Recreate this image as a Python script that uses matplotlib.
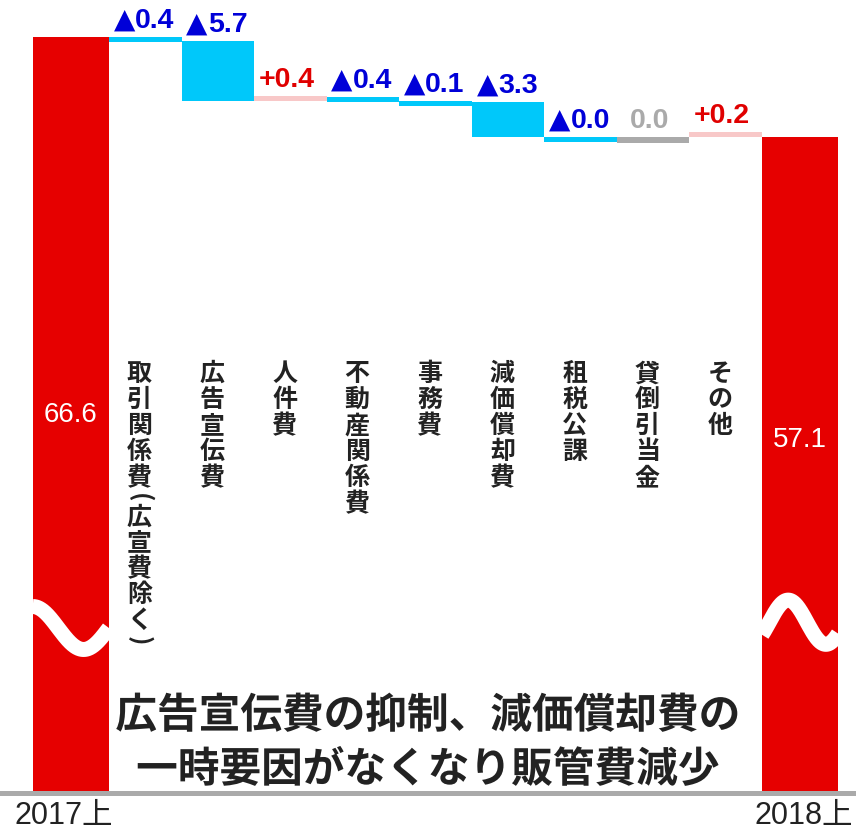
import numpy as np
import matplotlib.pyplot as plt
import matplotlib.patheffects as pe

# ── data ──
start_label, end_label = '2017上', '2018上'
start_total, end_total = 66.6, 57.1
step_names = ['取引関係費(広宣費除く)', '広告宣伝費', '人件費', '不動産関係費', '事務費',
              '減価償却費', '租税公課', '貸倒引当金', 'その他']
step_values = [-0.4, -5.7, 0.4, -0.4, -0.1, -3.3, -0.04, 0.0, 0.2]
note_lines = ['広告宣伝費の抑制、減価償却費の', '一時要因がなくなり販管費減少']

# ── style ──
RED, CYAN, PINK, GREY = '#E60000', '#00C8FA', '#F8C8C8', '#AAAAAA'
TXT_BLUE, TXT_RED, TXT_DARK = '#0000D8', '#E00000', '#222222'
LAT = ['Liberation Sans', 'DejaVu Sans', 'Noto Sans CJK JP']
CJK = ['Noto Sans CJK JP', 'DejaVu Sans']
BASE = -5.18          # where the (broken) bars meet the floor line
MIN_H = 0.5           # thinnest visible step bar
TOT_W = 1.05          # total bars are a touch wider than the steps
plt.rcParams['font.family'] = CJK

fig = plt.figure(figsize=(8.56, 8.36), dpi=100)
ax = fig.add_axes([0, 0, 1, 1])
ax.set_xlim(-1.002, 10.795)
ax.set_ylim(-9.31, 70.115)
ax.axis('off')

n = len(step_values)
last = n + 1

# totals (inner edge flush with the neighbouring step)
for xi, val, w in [(0.5, start_total, -TOT_W), (last - 0.5, end_total, TOT_W)]:
    ax.bar(xi, val - BASE, bottom=BASE, width=w, align='edge', color=RED, zorder=2)

# steps
running = start_total
for i, v in enumerate(step_values, start=1):
    if v > 0:
        bottom, h, col, tcol, lab = running, max(v, MIN_H), PINK, TXT_RED, f'+{v:.1f}'
    elif v < 0:
        h = max(-v, MIN_H)
        bottom, col, tcol, lab = running - h, CYAN, TXT_BLUE, f'{-v:.1f}'
    else:
        bottom, h, col, tcol, lab = running - MIN_H, MIN_H, GREY, GREY, f'{v:.1f}'
    ax.bar(i, h, bottom=bottom, width=1.0, color=col, zorder=2)
    ty = bottom + h + 0.3
    if v < 0:
        # ▲ from DejaVu (bigger triangle), number in Liberation
        ax.text(i - 0.14, ty + 0.05, '▲', ha='right', va='bottom', color=tcol,
                fontsize=20, family='DejaVu Sans', zorder=3)
        ax.text(i - 0.14, ty, lab, ha='left', va='bottom', color=tcol,
                fontsize=20.5, fontweight='bold', family=LAT, zorder=3)
    else:
        ax.text(i - 0.05, ty, lab, ha='center', va='bottom', color=tcol,
                fontsize=20.5, fontweight='bold', family=LAT, zorder=3)
    running += v

# vertical category labels, one glyph at a time; brackets turned sideways
for i, name in enumerate(step_names, start=1):
    y = 35.8
    for ch in name:
        if ch in '()':
            ax.text(i - 0.08, y - 0.62, ch, ha='center', va='center', color=TXT_DARK,
                    fontsize=18, fontweight='bold', rotation=-90, zorder=3)
            y -= 1.25
        else:
            ax.text(i - 0.08, y - 1.235, ch, ha='center', va='center', color=TXT_DARK,
                    fontsize=18, fontweight='bold', zorder=3)
            y -= 2.47

# break marks on the total bars
xs = np.linspace(0.5 - TOT_W, 0.5, 200)
ax.plot(xs, 10.45 + 2.04 * np.cos(np.pi * (xs - xs[0]) / 0.70), color='white', lw=10.8,
        solid_capstyle='butt', zorder=2.5)
xs = np.linspace(last - 0.5, last - 0.5 + TOT_W, 200)
ax.plot(xs, 11.0 + 2.1 * np.cos(np.pi * (xs - (last - 0.14)) / 0.52), color='white', lw=10.8,
        solid_capstyle='butt', zorder=2.5)

# total values
ax.text(0.5 - TOT_W / 2, 30.7, f'{start_total:.1f}', ha='center', va='center', color='white',
        fontsize=20, family=LAT, zorder=3)
ax.text(last - 0.5 + TOT_W / 2, 28.3, f'{end_total:.1f}', ha='center', va='center',
        color='white', fontsize=20, family=LAT, zorder=3)

# floor line + period labels
ax.axhline(BASE, color=GREY, lw=3.6, zorder=4)
ax.text(-0.12, -7.41, start_label, ha='center', va='center', color=TXT_DARK,
        fontsize=22, family=LAT)
ax.text(last + 0.08, -7.41, end_label, ha='center', va='center', color=TXT_DARK,
        fontsize=22, family=LAT)

# annotation
for k, line in enumerate(note_lines):
    ax.text(4.89, 2.09 - 5.13 * k, line, ha='center', va='center', color=TXT_DARK,
            fontsize=30, fontweight='bold', zorder=5,
            path_effects=[pe.withStroke(linewidth=4, foreground='white')])

fig.savefig('out.png', dpi=100)
